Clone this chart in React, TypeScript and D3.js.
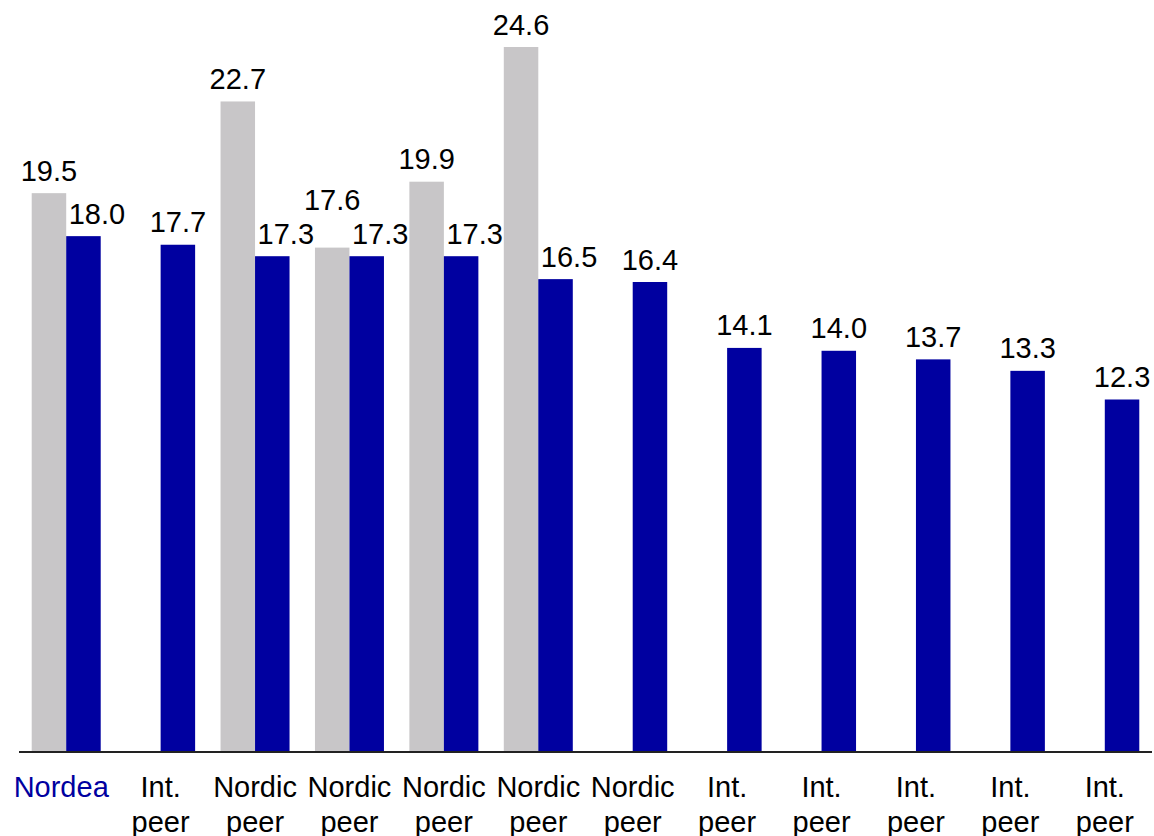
import React from "react";
import * as d3 from "d3";

const categories = [
  "Nordea", "Int. peer", "Nordic peer", "Nordic peer", "Nordic peer", "Nordic peer",
  "Nordic peer", "Int. peer", "Int. peer", "Int. peer", "Int. peer", "Int. peer",
];
const greyValues: (number | null)[] = [19.5, null, 22.7, 17.6, 19.9, 24.6, null, null, null, null, null, null];
const blueValues: number[] = [18.0, 17.7, 17.3, 17.3, 17.3, 16.5, 16.4, 14.1, 14.0, 13.7, 13.3, 12.3];

const W = 1154;
const H = 836;
const BLUE = "#0000A0";
const GREY = "#C8C6C8";
const FONT = "Liberation Sans, Arial, sans-serif";

export default function App() {
  const x = d3.scaleBand<number>().domain(categories.map((_, i) => i)).range([19, 1152]).padding(0);
  const baseY = 752;
  const y = d3.scaleLinear().domain([0, 24.6]).range([baseY, 47]);
  const bw = 34.5;
  const fs = 29;
  const gap = 12.5;

  return (
    <svg width={W} height={H} style={{ position: "absolute", left: 0, top: 0 }} fontFamily={FONT}>
      {categories.map((c, i) => {
        const cx = (x(i) as number) + x.bandwidth() / 2;
        const g = greyValues[i];
        const b = blueValues[i];
        const words = c.split(" ");
        const blueLabelY = y(b) - gap;
        const blueLabelX = cx + bw / 2 + (g !== null ? 13.5 : 0);
        let greyLabelY = g !== null ? y(g) - gap : 0;
        if (g !== null && Math.abs(greyLabelY - blueLabelY) < 30) {
          greyLabelY = Math.min(greyLabelY, blueLabelY) - 25;
        }
        return (
          <g key={i}>
            {g !== null && (
              <>
                <rect x={cx - bw} y={y(g)} width={bw} height={baseY - y(g)} fill={GREY} />
                <text x={cx - bw / 2} y={greyLabelY} textAnchor="middle" fontSize={fs} fill="#000">
                  {g.toFixed(1)}
                </text>
              </>
            )}
            <rect x={cx} y={y(b)} width={bw} height={baseY - y(b)} fill={BLUE} />
            <text x={blueLabelX} y={blueLabelY} textAnchor="middle" fontSize={fs} fill="#000">
              {b.toFixed(1)}
            </text>
            {words.map((w, k) => (
              <text
                key={k}
                x={i === 0 ? cx - 5 : cx}
                y={797 + k * 35}
                textAnchor="middle"
                fontSize={fs}
                fill={i === 0 ? BLUE : "#000"}
              >
                {w}
              </text>
            ))}
          </g>
        );
      })}
      <line x1={19} x2={1152} y1={baseY} y2={baseY} stroke="#222" strokeWidth={2} />
    </svg>
  );
}
